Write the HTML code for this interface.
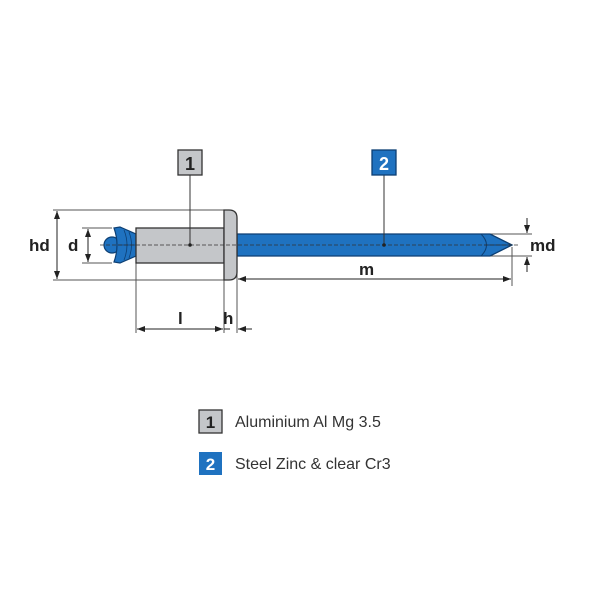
<!DOCTYPE html>
<html><head><style>
body{margin:0;background:#fff;}
svg{display:block}
text{font-family:"Liberation Sans",sans-serif;}
</style></head><body>
<svg width="600" height="600" viewBox="0 0 600 600">
<defs>
<marker id="a" markerWidth="8" markerHeight="6" refX="8" refY="3" orient="auto" markerUnits="userSpaceOnUse"><path d="M0,0 L8,3 L0,6 Z" fill="#222"/></marker>
</defs>
<g stroke="#555" stroke-width="1" fill="none">
<line x1="53" y1="210" x2="226" y2="210"/>
<line x1="53" y1="280" x2="226" y2="280"/>
<line x1="82" y1="228" x2="112" y2="228"/>
<line x1="82" y1="263" x2="112" y2="263"/>
<line x1="136" y1="263" x2="136" y2="333"/>
<line x1="224" y1="280" x2="224" y2="333"/>
<line x1="237" y1="266" x2="237" y2="333"/>
<line x1="512" y1="247" x2="512" y2="286"/>
<line x1="490" y1="234" x2="532" y2="234"/>
<line x1="490" y1="256" x2="532" y2="256"/>
</g>
<g stroke="#222" stroke-width="1" fill="none">
<line x1="57" y1="245" x2="57" y2="211" marker-end="url(#a)"/>
<line x1="57" y1="245" x2="57" y2="279" marker-end="url(#a)"/>
<line x1="88" y1="245" x2="88" y2="229" marker-end="url(#a)"/>
<line x1="88" y1="245" x2="88" y2="262" marker-end="url(#a)"/>
<line x1="180" y1="329" x2="137" y2="329" marker-end="url(#a)"/>
<line x1="180" y1="329" x2="223" y2="329" marker-end="url(#a)"/>
<line x1="230" y1="329" x2="224" y2="329"/>
<line x1="252" y1="329" x2="238" y2="329" marker-end="url(#a)"/>
<line x1="380" y1="279" x2="238" y2="279" marker-end="url(#a)"/>
<line x1="380" y1="279" x2="511" y2="279" marker-end="url(#a)"/>
<line x1="527" y1="218" x2="527" y2="233" marker-end="url(#a)"/>
<line x1="527" y1="272" x2="527" y2="257" marker-end="url(#a)"/>
</g>
<path d="M237,234 L490,234 L512,245 L490,256 L237,256 Z" fill="#1f72c0" stroke="#0d3f73" stroke-width="1.3"/>
<path d="M481,234 Q492,245 481,256 M484,245 L512,245" stroke="#0d3f73" fill="none" stroke-width="1"/>
<circle cx="112" cy="245" r="8" fill="#1f72c0" stroke="#0d3f73" stroke-width="1.2"/>
<path d="M114,228 L120,227 L136,234 L136,256 L120,263 L114,262 Q120,245 114,228 Z" fill="#1f72c0" stroke="#0d3f73" stroke-width="1.2"/>
<path d="M124,230 Q130,245 124,260 M129,232 Q134,245 129,258 M118,245 L136,245" stroke="#0d3f73" fill="none" stroke-width="0.8"/>
<rect x="136" y="228" width="88" height="35" fill="#c4c6c9" stroke="#333" stroke-width="1.3"/>
<path d="M224,210 L229,210 Q237,210 237,218 L237,272 Q237,280 229,280 L224,280 Z" fill="#c4c6c9" stroke="#333" stroke-width="1.3"/>
<line x1="100" y1="245" x2="520" y2="245" stroke="#333" stroke-width="0.8" stroke-dasharray="4,2"/>
<line x1="190" y1="175" x2="190" y2="245" stroke="#333"/>
<circle cx="190" cy="245" r="1.8" fill="#222"/>
<line x1="384" y1="175" x2="384" y2="245" stroke="#333"/>
<circle cx="384" cy="245" r="1.8" fill="#222"/>
<rect x="178" y="150" width="24" height="25" fill="#c4c6c9" stroke="#333" stroke-width="1.3"/>
<text x="190" y="170" text-anchor="middle" font-size="18" font-weight="bold" fill="#222">1</text>
<rect x="372" y="150" width="24" height="25" fill="#1f72c0" stroke="#0d3f73" stroke-width="1.3"/>
<text x="384" y="170" text-anchor="middle" font-size="18" font-weight="bold" fill="#fff">2</text>
<g font-size="17" font-weight="bold" fill="#222">
<text x="29" y="251">hd</text>
<text x="68" y="251">d</text>
<text x="178" y="324">l</text>
<text x="223" y="324">h</text>
<text x="359" y="275">m</text>
<text x="530" y="251">md</text>
</g>
<rect x="199" y="410" width="23" height="23" fill="#c4c6c9" stroke="#333" stroke-width="1.3"/>
<text x="210.5" y="428" text-anchor="middle" font-size="17" font-weight="bold" fill="#222">1</text>
<text x="235" y="427" font-size="16" fill="#333">Aluminium Al Mg 3.5</text>
<rect x="199" y="452" width="23" height="23" fill="#1f72c0"/>
<text x="210.5" y="470" text-anchor="middle" font-size="17" font-weight="bold" fill="#fff">2</text>
<text x="235" y="469" font-size="16" fill="#333">Steel Zinc &amp; clear Cr3</text>
</svg>
</body></html>
